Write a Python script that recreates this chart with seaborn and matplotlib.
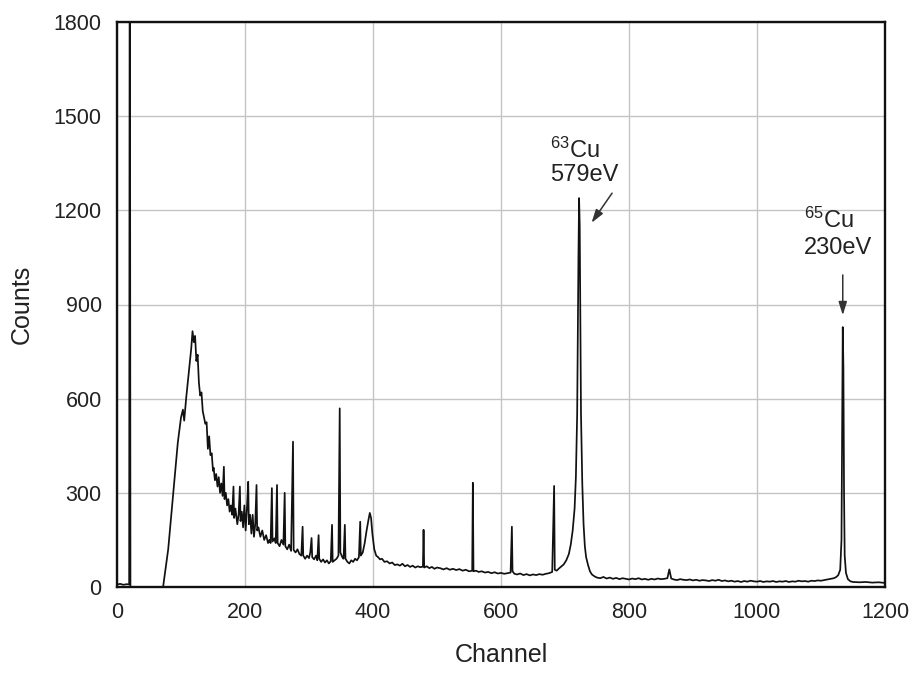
import matplotlib
matplotlib.use("Agg")
import matplotlib.pyplot as plt
import seaborn as sns
import pandas as pd
from matplotlib.ticker import MultipleLocator

# ---------------- data ----------------
channel = [
    0, 5, 10, 15, 19, 20, 21, 40, 60, 72,
    80, 88, 95, 100, 103, 105, 108, 112, 116, 118, 120, 122, 124, 126, 128, 130,
    132, 134, 136, 138, 140, 142, 144, 146, 148, 150, 151, 153, 155, 157, 159,
    161, 163, 165, 167, 168, 170, 172, 174, 176, 178, 180, 182, 183, 185, 188,
    190, 192, 193, 195, 197, 199, 201, 203, 205, 206, 208, 210, 212, 214, 216,
    218, 219, 221, 224, 227, 230, 233, 236, 238, 240, 242, 243, 246, 248, 250,
    251, 254, 257, 260, 262, 263, 266, 269, 272, 275, 276, 279, 282, 285, 288,
    290, 291, 294, 297, 300, 302, 304, 305, 308, 311, 313, 315, 316, 319, 322,
    325, 328, 331, 334, 336, 337, 340, 343, 346, 348, 349, 352, 354, 356, 357,
    360, 363, 366, 369, 372, 375, 378, 380, 381, 384, 387, 390, 393, 395, 397,
    399, 402, 405, 408, 411, 414, 418, 422, 426, 430, 434, 438, 442, 446, 450,
    454, 458, 462, 466, 470, 474, 478, 479, 480, 484, 488, 492, 496, 500, 505,
    510, 515, 520, 525, 530, 535, 540, 545, 550, 555, 556, 557, 561, 565, 570,
    575, 580, 585, 590, 595, 600, 605, 610, 615, 617, 618, 621, 625, 630, 635,
    640, 645, 650, 655, 660, 665, 670, 675, 680, 683, 684, 687, 690, 694, 698,
    702, 706, 709, 712, 715, 717, 719, 720, 721, 722, 723, 724, 725, 727, 729,
    731, 733, 736, 739, 742, 746, 750, 755, 760, 765, 770, 775, 780, 785, 790,
    795, 800, 805, 810, 815, 820, 825, 830, 835, 840, 845, 850, 855, 860, 863,
    866, 870, 875, 880, 885, 890, 895, 900, 905, 910, 915, 920, 925, 930, 935,
    940, 945, 950, 955, 960, 965, 970, 975, 980, 985, 990, 995, 1000, 1005,
    1010, 1015, 1020, 1025, 1030, 1035, 1040, 1045, 1050, 1055, 1060, 1065,
    1070, 1075, 1080, 1085, 1090, 1095, 1100, 1105, 1110, 1115, 1120, 1124,
    1127, 1130, 1132, 1133, 1134, 1135, 1136, 1137, 1139, 1142, 1146, 1150,
    1160, 1170, 1180, 1190, 1200,
]
counts = [
    8, 10, 7, 9, 8, 2600, 0, 0, 0, 0,
    120, 300, 460, 540, 565, 530, 600, 680, 760, 815, 780, 800, 720, 740, 650, 610,
    620, 560, 540, 520, 525, 440, 480, 420, 426, 370, 380, 340, 360, 320, 350,
    300, 330, 290, 383, 280, 300, 260, 280, 240, 260, 230, 320, 220, 250, 200,
    230, 320, 210, 240, 190, 260, 180, 250, 335, 200, 230, 170, 230, 160, 200,
    325, 180, 190, 160, 180, 150, 165, 140, 150, 140, 315, 145, 155, 140, 325,
    140, 130, 150, 135, 300, 130, 120, 135, 115, 463, 118, 110, 120, 105, 100,
    192, 100, 90, 100, 92, 110, 156, 95, 88, 100, 85, 165, 90, 80, 88,
    78, 85, 75, 82, 198, 80, 85, 90, 100, 569, 110, 95, 90, 198, 90,
    80, 75, 85, 80, 90, 85, 95, 208, 100, 110, 140, 180, 215, 236, 220,
    170, 120, 100, 95, 88, 90, 80, 82, 75, 78, 70, 72, 68, 74, 66,
    70, 64, 68, 62, 66, 63, 65, 182, 62, 66, 60, 64, 58, 62, 60,
    56, 60, 55, 58, 54, 57, 52, 55, 50, 52, 332, 50, 52, 48, 50,
    46, 48, 44, 47, 43, 45, 42, 44, 46, 192, 50, 42, 40, 43, 38,
    41, 37, 40, 38, 41, 39, 42, 44, 48, 322, 55, 52, 58, 65, 72,
    85, 105, 135, 180, 250, 350, 550, 800, 1050, 1239, 1150, 850, 550, 330, 200,
    130, 95, 70, 50, 40, 34, 30, 28, 32, 27, 30, 26, 29, 25, 28,
    26, 24, 27, 25, 28, 24, 26, 23, 26, 24, 27, 25, 26, 28, 56,
    27, 24, 22, 25, 23, 22, 24, 21, 23, 20, 22, 21, 19, 22, 20,
    23, 19, 21, 18, 20, 17, 19, 16, 19, 17, 20, 18, 17, 19,
    16, 18, 17, 19, 16, 18, 17, 19, 16, 18, 17, 20,
    18, 19, 17, 20, 19, 21, 20, 22, 24, 26, 28, 32,
    38, 55, 150, 500, 828, 700, 300, 100, 45, 25, 18, 16,
    15, 16, 14, 15, 13,
]

x_ticks = [0, 200, 400, 600, 800, 1000, 1200]
y_ticks = [0, 300, 600, 900, 1200, 1500, 1800]

peak_labels = [r"$\mathregular{^{63}}$Cu", r"$\mathregular{^{65}}$Cu"]
peak_energies = ["579eV", "230eV"]
label_pos = [(677, 1392, 1312), (1073, 1169, 1080)]
arrow_from = [(776, 1262), (1134, 1003)]
arrow_to = [(739, 1153), (1134, 857)]

# ---------------- style ----------------
sns.set_style("white")
plt.rcParams["font.family"] = ["Liberation Sans", "DejaVu Sans"]
plt.rcParams["mathtext.fontset"] = "custom"
plt.rcParams["mathtext.rm"] = "Liberation Sans"
plt.rcParams["mathtext.it"] = "Liberation Sans:italic"
plt.rcParams["mathtext.bf"] = "Liberation Sans:bold"

text_color = "#222222"

fig = plt.figure(figsize=(9.15, 6.77), dpi=100)
ax = fig.add_axes([117 / 915, 90 / 677, 768 / 915, 565 / 677])

df = pd.DataFrame({"Channel": channel, "Counts": counts})
sns.lineplot(data=df, x="Channel", y="Counts", ax=ax, color="#111111",
             linewidth=1.25, estimator=None, sort=False, zorder=3)

ax.set_xlim(0, 1200)
ax.set_ylim(0, 1800)
ax.set_xticks(x_ticks)
ax.set_yticks(y_ticks)
ax.xaxis.set_minor_locator(MultipleLocator(100))
ax.yaxis.set_minor_locator(MultipleLocator(150))
ax.grid(True, which="major", color="#c4c4c4", linewidth=1.0, zorder=0)
ax.set_axisbelow(True)

for s in ax.spines.values():
    s.set_linewidth(1.7)
    s.set_color("#111111")

ax.tick_params(axis="both", which="major", direction="out", length=6, width=1.3,
               labelsize=15.5, colors="#111111", pad=5)
ax.tick_params(axis="both", which="minor", direction="out", length=3.5, width=1.1,
               colors="#111111")
ax.tick_params(axis="both", labelcolor=text_color)

ax.set_xlabel("Channel", fontsize=18, color=text_color, labelpad=14)
ax.set_ylabel("Counts", fontsize=18, color=text_color, labelpad=14)

for lab, en, (lx, ly1, ly2), a0, a1 in zip(peak_labels, peak_energies, label_pos,
                                          arrow_from, arrow_to):
    ax.text(lx, ly1, lab, fontsize=17, color=text_color, ha="left", va="center")
    ax.text(lx, ly2, en, fontsize=17, color=text_color, ha="left", va="center")
    ax.annotate("", xy=a1, xytext=a0,
                arrowprops=dict(arrowstyle="-|>,head_length=0.8,head_width=0.25",
                                color="#333333", lw=1.1))

fig.savefig("out.png", dpi=100)
